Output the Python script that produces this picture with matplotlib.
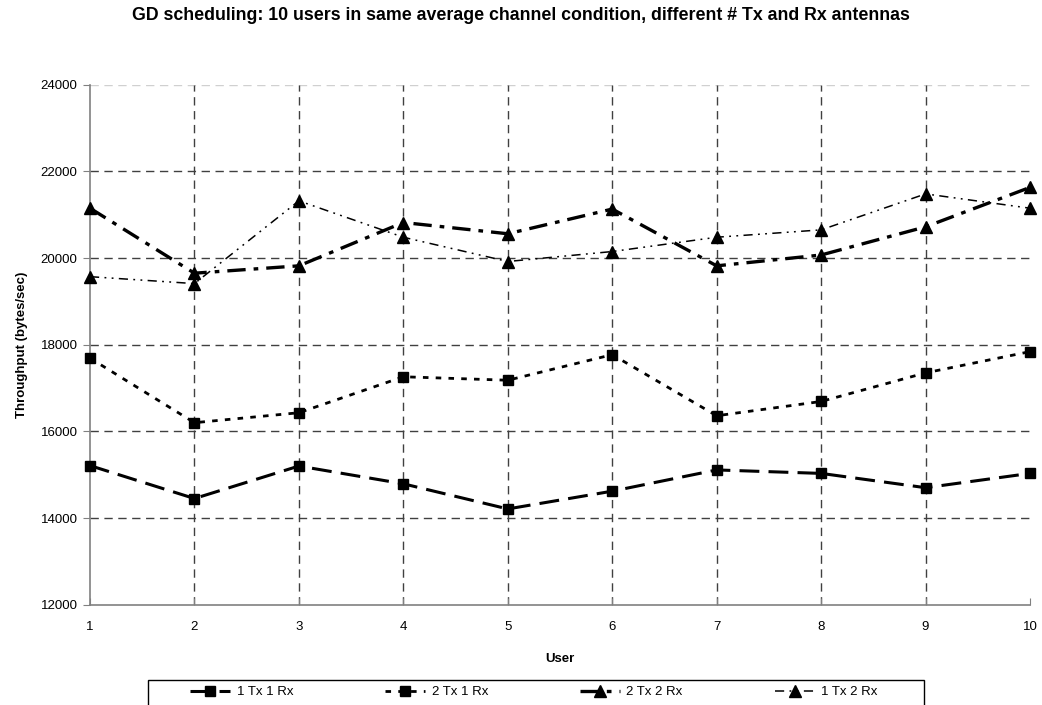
import matplotlib
matplotlib.use("Agg")
import matplotlib.pyplot as plt
from matplotlib.patches import Rectangle

plt.rcParams['font.family'] = ['Liberation Sans', 'DejaVu Sans']

users = [1, 2, 3, 4, 5, 6, 7, 8, 9, 10]
tx1_rx1 = [15210, 14450, 15200, 14790, 14210, 14620, 15110, 15030, 14700, 15030]
tx2_rx1 = [17690, 16200, 16430, 17260, 17180, 17770, 16360, 16690, 17350, 17840]
tx2_rx2 = [21150, 19650, 19820, 20820, 20560, 21130, 19820, 20070, 20720, 21630]
tx1_rx2 = [19570, 19410, 21320, 20480, 19920, 20150, 20480, 20650, 21480, 21150]
y_ticks = [12000, 14000, 16000, 18000, 20000, 22000, 24000]

title = "GD scheduling: 10 users in same average channel condition, different # Tx and Rx antennas"

W, H = 1042, 705
fig = plt.figure(figsize=(W / 100, H / 100), dpi=100)
ax = fig.add_axes([90 / W, 1 - 604.7 / H, (1030 - 90) / W, (604.7 - 84.7) / H])

ax.set_xlim(1, 10)
ax.set_ylim(12000, 24000)
ax.set_yticks(y_ticks)
ax.set_xticks(users)

# gridlines (dashed); the 24000 line is only faint
grid_kw = dict(color='#404040', linewidth=1.0, linestyle=(0, (6, 4)), zorder=1)
for y in y_ticks[1:-1]:
    ax.axhline(y, **grid_kw)
ax.axhline(24000, color='#d0d0d0', linewidth=1.0, linestyle=(0, (6, 4)), zorder=1)
for x in users[1:-1]:
    ax.axvline(x, **grid_kw)

series = [
    ("1 Tx 1 Rx", tx1_rx1, 's', 7, 2.2, (0, (6.5, 3.0))),
    ("2 Tx 1 Rx", tx2_rx1, 's', 7, 2.0, (0, (2.0, 2.6))),
    ("2 Tx 2 Rx", tx2_rx2, '^', 8, 2.4, (0, (5.5, 2.4, 1.4, 2.4))),
    ("1 Tx 2 Rx", tx1_rx2, '^', 8, 1.1, (0, (6.0, 3.5, 1.2, 3.5, 1.2, 3.5))),
]
handles = []
for label, vals, mk, ms, lw, ls in series:
    ln, = ax.plot(users, vals, color='black', linewidth=lw, linestyle=ls,
                  marker=mk, markersize=ms, markerfacecolor='black',
                  markeredgecolor='black', label=label, zorder=3,
                  clip_on=False)
    handles.append(ln)

for side in ('top', 'right'):
    ax.spines[side].set_visible(False)
for side in ('left', 'bottom'):
    ax.spines[side].set_color('#808080')
    ax.spines[side].set_linewidth(1.2)

ax.tick_params(axis='y', direction='out', length=5, color='#808080',
               labelsize=9.5, pad=4)
ax.tick_params(axis='x', direction='in', length=5, color='#808080',
               labelsize=9.5, pad=12)

ax.set_xlabel("User", fontsize=9.5, fontweight='bold', labelpad=14)
ax.set_ylabel("Throughput (bytes/sec)", fontsize=9.5, fontweight='bold',
              labelpad=9)

fig.text(0.5, 1 - 16 / H, title, ha='center', va='center',
         fontsize=12.8, fontweight='bold')

# legend box runs past the bottom edge of the figure
fig.patches.append(Rectangle((148 / W, -20 / H), (924 - 148) / W,
                             (H - 680 + 20) / H,
                             transform=fig.transFigure, fill=False,
                             edgecolor='black', linewidth=1.0, clip_on=False))

leg = fig.legend(handles=handles, loc='center', ncol=4,
                 bbox_to_anchor=(534 / W, 1 - 692 / H),
                 frameon=False, fontsize=9.5,
                 handlelength=3.0, columnspacing=7.0, handletextpad=0.5,
                 borderpad=0.0, borderaxespad=0)

fig.savefig("out.png", dpi=100)
